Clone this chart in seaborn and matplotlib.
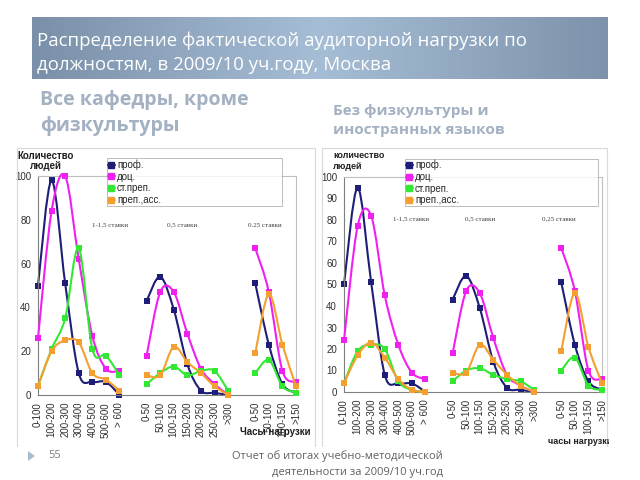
import numpy as np
import pandas as pd
import matplotlib
matplotlib.use('Agg')
import matplotlib.pyplot as plt
from matplotlib.path import Path
from matplotlib.patches import PathPatch, Rectangle, Polygon
from matplotlib.lines import Line2D
from matplotlib.colors import LinearSegmentedColormap
import seaborn as sns

roles = ['проф.', 'доц.', 'ст.преп.', 'преп.,асс.']
colors = ['#1e1e78', '#f020f0', '#33e833', '#f4a030']

hours_full = ['0-100', '100-200', '200-300', '300-400', '400-500', '500-600', '> 600']
hours_half = ['0-50', '50-100', '100-150', '150-200', '200-250', '250-300', '>300']
hours_quarter = ['0-50', '50-100', '100-150', '>150']
x_labels = hours_full + [''] + hours_half + [''] + hours_quarter

# Все кафедры, кроме физкультуры (None = gap between groups)
left_prof = [50, 98, 51, 10, 6, 6, 0, None, 43, 54, 39, 14, 2, 1, 0, None, 51, 23, 5, 1]
left_doc = [26, 84, 100, 62, 27, 12, 11, None, 18, 47, 47, 28, 12, 5, 0, None, 67, 47, 11, 6]
left_st = [4, 21, 35, 67, 21, 18, 9, None, 5, 10, 13, 9, 11, 11, 2, None, 10, 16, 4, 1]
left_asst = [4, 20, 25, 24, 10, 7, 2, None, 9, 9, 22, 15, 10, 4, 0, None, 19, 46, 23, 4]

# Без физкультуры и иностранных языков
right_prof = [50, 95, 51, 8, 4, 4, 0, None, 43, 54, 39, 14, 2, 1, 0, None, 51, 22, 5, 1]
right_doc = [24, 77, 82, 45, 22, 9, 6, None, 18, 47, 46, 25, 8, 3, 0, None, 67, 47, 10, 6]
right_st = [4, 19, 22, 20, 5, 1, 0, None, 5, 10, 11, 8, 6, 5, 1, None, 10, 16, 3, 1]
right_asst = [4, 17, 23, 16, 6, 1, 0, None, 9, 9, 22, 15, 8, 3, 0, None, 19, 46, 21, 4]

left_groups = ['1-1,5 ставки', '0,5 ставки', '0.25 ставки']
right_groups = ['1-1,5 ставки', '0,5 ставки', '0,25 ставки']

sns.set_style('white')
plt.rcParams['font.family'] = ['Liberation Sans', 'DejaVu Sans']

W, H = 640, 480
fig = plt.figure(figsize=(6.4, 4.8), dpi=100)


def fx(x):
    return x / W


def fy(y):
    return 1 - y / H


def smooth_path(xs, ys):
    # excel-like smoothed line: catmull-rom segments as cubic beziers
    pts = np.column_stack([xs, ys]).astype(float)
    n = len(pts)
    verts = [tuple(pts[0])]
    codes = [Path.MOVETO]
    for i in range(n - 1):
        p0 = pts[max(i - 1, 0)]
        p1 = pts[i]
        p2 = pts[i + 1]
        p3 = pts[min(i + 2, n - 1)]
        verts += [tuple(p1 + (p2 - p0) / 6), tuple(p2 - (p3 - p1) / 6), tuple(p2)]
        codes += [Path.CURVE4] * 3
    return Path(verts, codes)


def draw_chart(ax, series, yticks, groups, group_pos):
    for k, (role, vals) in enumerate(zip(roles, series)):
        df = pd.DataFrame({'pos': range(len(vals)), 'value': vals})
        df['seg'] = df['value'].isna().cumsum()
        df = df.dropna()
        for _, part in df.groupby('seg'):
            ax.add_patch(PathPatch(smooth_path(part['pos'], part['value']), fill=False,
                                   edgecolor=colors[k], lw=1.5, zorder=2 + k, clip_on=False))
        sns.scatterplot(data=df, x='pos', y='value', color=colors[k], marker='s', s=16,
                        linewidth=0, ax=ax, zorder=2.5 + k, legend=False)
        ax.collections[-1].set_clip_on(False)

    ax.set_xlim(0, len(x_labels) - 1)
    ax.set_ylim(0, 100)
    ax.set_xticks(range(len(x_labels)))
    ax.set_xticklabels(x_labels, rotation=90, fontsize=7, color='#303030')
    ax.set_yticks(yticks)
    ax.set_yticklabels([str(v) for v in yticks], fontsize=7, color='#303030')
    ax.tick_params(axis='both', direction='out', length=3, width=0.6, color='#808080', pad=2)
    ax.set_xlabel('')
    ax.set_ylabel('')
    for side in ['left', 'bottom']:
        ax.spines[side].set_color('#7f7f7f')
        ax.spines[side].set_linewidth(0.8)
    for side in ['top', 'right']:
        ax.spines[side].set_color('#bfbfbf')
        ax.spines[side].set_linewidth(0.8)

    for name, (gx, gy) in zip(groups, group_pos):
        ax.text(gx, gy, name, fontsize=5, family=['Liberation Serif', 'DejaVu Serif'],
                color='#404040', ha='center', va='center')


def add_legend(ax, x0, y0, w):
    handles = [Line2D([], [], color=c, marker='s', markersize=4.5, lw=1.5) for c in colors]
    leg = ax.legend(handles, roles, loc='upper left', bbox_to_anchor=(x0, y0, w, 0.01),
                    mode='expand', fontsize=7, frameon=True, fancybox=False,
                    handlelength=0.7, handletextpad=0.25, labelspacing=0.18,
                    borderpad=0.1, borderaxespad=0)
    leg.get_frame().set_edgecolor('#a0a0a0')
    leg.get_frame().set_linewidth(0.6)
    leg.set_zorder(10)


# chart frames
for x0, x1 in [(17, 315), (322, 607)]:
    fig.add_artist(Rectangle((fx(x0), fy(447)), fx(x1 - x0), (447 - 148) / H,
                             transform=fig.transFigure, fill=False, edgecolor='#d9d9d9', lw=0.8))

ax1 = fig.add_axes([fx(38), fy(395), 258 / W, 219 / H])
draw_chart(ax1, [left_prof, left_doc, left_st, left_asst], [0, 20, 40, 60, 80, 100],
           left_groups, [(5.3, 77.5), (10.6, 77.5), (16.7, 77.5)])
add_legend(ax1, 0.267, 1.07, 0.68)

ax2 = fig.add_axes([fx(344), fy(392), 258 / W, 215 / H])
draw_chart(ax2, [right_prof, right_doc, right_st, right_asst], list(range(0, 101, 10)),
           right_groups, [(4.9, 80.5), (10.0, 80.5), (15.8, 80.5)])
add_legend(ax2, 0.236, 1.075, 0.75)

fig.text(fx(46), fy(161), 'Количество\nлюдей', fontsize=7, fontweight='bold', color='#202020',
         ha='center', va='center', linespacing=1.1)
fig.text(fx(333), fy(161), 'количество\nлюдей', fontsize=6.5, fontweight='bold', color='#202020',
         ha='left', va='center', linespacing=1.3)
fig.text(fx(275), fy(432), 'Часы нагрузки', fontsize=7, fontweight='bold', color='#202020',
         ha='center', va='center', zorder=20)
t = fig.text(fx(548), fy(441), 'часы нагрузки', fontsize=6.5, fontweight='bold', color='#202020',
             ha='left', va='center', zorder=20)
t.set_clip_box(fig.transFigure.transform_bbox(matplotlib.transforms.Bbox([[0, 0], [fx(609), 1]])))
t.set_clip_on(True)

# cover below chart images
fig.add_artist(Rectangle((0, 0), 1, (H - 447) / H, transform=fig.transFigure,
                         facecolor='white', edgecolor='none', zorder=15))

# title bar with gradient
tax = fig.add_axes([fx(32), fy(79), 576 / W, 62 / H], zorder=5)
cmap = LinearSegmentedColormap.from_list('bar', ['#7a90a9', '#a6bed5', '#7d93ab'])
tax.imshow(np.linspace(0, 1, 256)[None, :], aspect='auto', cmap=cmap, extent=[0, 1, 0, 1])
tax.axis('off')
title_font = ['Open Sans', 'DejaVu Sans']
fig.text(fx(37), fy(41), 'Распределение фактической аудиторной нагрузки по', fontsize=13.4,
         color='white', family=title_font, va='center', zorder=6)
fig.text(fx(37), fy(65), 'должностям, в 2009/10 уч.году, Москва', fontsize=13.4,
         color='white', family=title_font, va='center', zorder=6)

sub_color = '#a3b1c2'
fig.text(fx(40), fy(100), 'Все кафедры, кроме', fontsize=14, fontweight='bold',
         color=sub_color, family=title_font, va='center')
fig.text(fx(40), fy(126), 'физкультуры', fontsize=14, fontweight='bold',
         color=sub_color, family=title_font, va='center')
fig.text(fx(333), fy(111), 'Без физкультуры и', fontsize=11, fontweight='bold',
         color=sub_color, family=title_font, va='center')
fig.text(fx(333), fy(130), 'иностранных языков', fontsize=11, fontweight='bold',
         color=sub_color, family=title_font, va='center')

# footer
fig.add_artist(Polygon([(fx(28), fy(451)), (fx(28), fy(461)), (fx(35), fy(456))],
                       closed=True, transform=fig.transFigure, facecolor='#a8bcd0',
                       edgecolor='none', zorder=16))
fig.text(fx(48), fy(456), '55', fontsize=8, color='#7f7f7f', family=title_font,
         va='center', zorder=17)
fig.text(fx(443), fy(456), 'Отчет об итогах учебно-методической', fontsize=8, color='#606060',
         family=title_font, ha='right', va='center', zorder=17)
fig.text(fx(443), fy(472), 'деятельности за 2009/10 уч.год', fontsize=8, color='#606060',
         family=title_font, ha='right', va='center', zorder=17)

fig.savefig('out.png', dpi=100, facecolor='white')
